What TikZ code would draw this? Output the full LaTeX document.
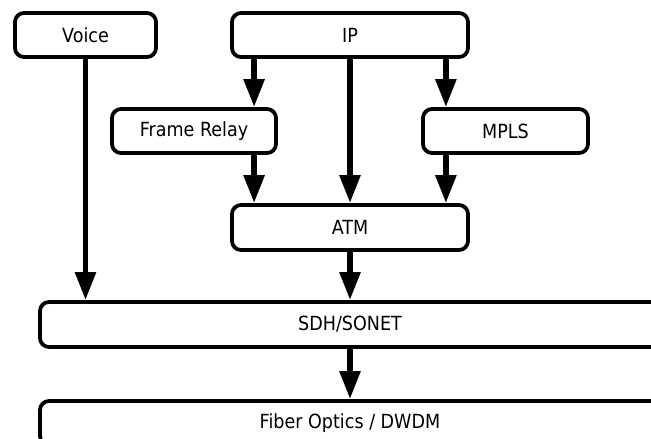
\documentclass[tikz,border=0pt]{standalone}
\usepackage{fontspec}
\setmainfont{DejaVu Sans}[FakeStretch=0.9]
\usetikzlibrary{arrows.meta}
\begin{document}
\begin{tikzpicture}[x=1pt,y=-1pt,
  layer/.style={draw=black, line width=3.8pt, rounded corners=9pt, fill=white,
    inner sep=0pt, font=\fontsize{19.5}{22}\selectfont},
  flow/.style={line width=5.5pt, -{Triangle[length=28pt,width=20pt]}}]
\useasboundingbox (0,0) rectangle (651,439);
\clip (0,0) rectangle (651,439);

% protocol layers
\node[layer, minimum width=141pt, minimum height=44pt] (voice) at (85.5,35) {Voice};
\node[layer, minimum width=236pt, minimum height=44pt] (ip)    at (350,35)  {IP};
\node[layer, minimum width=164pt, minimum height=44pt] (fr)    at (194,131) {Frame Relay};
\node[layer, minimum width=165pt, minimum height=44pt] (mpls)  at (505.5,131) {MPLS};
\node[layer, minimum width=236pt, minimum height=45pt] (atm)   at (350,227.5) {ATM};
\node[layer, minimum width=620pt, minimum height=45pt] (sdh)   at (350,324.5) {SDH/SONET};
\node[layer, minimum width=620pt, minimum height=44pt] (fiber) at (350,423) {Fiber Optics / DWDM};

% IP down to Frame Relay, ATM and MPLS
\coordinate (ipl) at ([xshift=24pt]ip.south west);
\coordinate (ipr) at ([xshift=-24pt]ip.south east);
\draw[flow] (ipl) -- (ipl |- fr.north);
\draw[flow] (ip.south) -- (atm.north);
\draw[flow] (ipr) -- (ipr |- mpls.north);

% Frame Relay and MPLS down to ATM
\draw[flow] (ipl |- fr.south) -- (ipl |- atm.north);
\draw[flow] (ipr |- mpls.south) -- (ipr |- atm.north);

% lower layers
\draw[flow] (voice.south) -- (voice.south |- sdh.north);
\draw[flow] (atm.south) -- (sdh.north);
\draw[flow] (sdh.south) -- (fiber.north);
\end{tikzpicture}
\end{document}
